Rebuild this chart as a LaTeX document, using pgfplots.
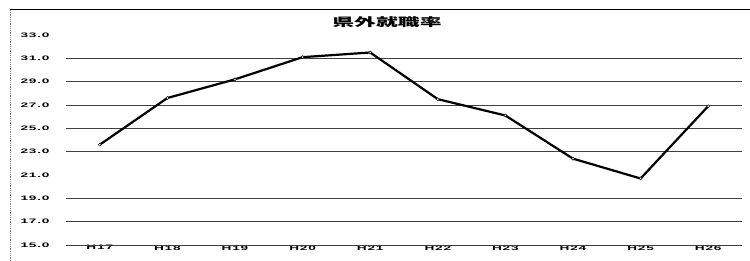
\documentclass[border=0pt]{standalone}
\usepackage{pgfplots}
\pgfplotsset{compat=1.18}
\usepackage{fontspec}
\setmainfont{Liberation Sans}
\newfontfamily\tickfont[FakeStretch=2.1,LetterSpace=12]{Liberation Sans}
\newfontfamily\cjk[FakeStretch=1.9]{Noto Sans CJK JP}
\begin{document}
\begin{tikzpicture}[x=1pt,y=1pt]
\useasboundingbox (0,0) rectangle (750,261);
\draw[black, line width=0.8pt] (10,252) -- (750,252);
\draw[gray, line width=0.8pt, densely dotted] (10,0) -- (10,252);
\node[font=\cjk\bfseries\fontsize{11.5}{12}\selectfont] at (387,239) {県外就職率};
\begin{axis}[
  at={(66pt,16pt)}, anchor=south west,
  scale only axis, width=676pt, height=210pt,
  xmin=-0.5, xmax=9.5, ymin=15, ymax=33,
  clip=false,
  axis line style={draw=none},
  tick style={draw=none},
  xtick={0,...,9},
  xticklabels={H17,H18,H19,H20,H21,H22,H23,H24,H25,H26},
  ytick={15,17,...,33},
  yticklabel={\pgfmathprintnumber[fixed,fixed zerofill,precision=1]{\tick}},
  /pgf/number format/assume math mode=true,
  ticklabel style={font=\tickfont\bfseries\fontsize{6.5}{7}\selectfont},
  yticklabel style={anchor=east, xshift=-13pt},
  xticklabel style={yshift=3pt},
  extra y ticks={15,17,19,23,25,27,29,31},
  extra y tick labels={},
  extra y tick style={grid=major},
  major grid style={black!75, line width=0.5pt},
]
\addplot[black, line width=2.2pt, mark=*, mark size=1.5pt, mark options={fill=white, line width=0.5pt}]
  coordinates {(0,23.6) (1,27.6) (2,29.2) (3,31.1) (4,31.5) (5,27.5) (6,26.1) (7,22.4) (8,20.7) (9,26.9)};
\end{axis}
\end{tikzpicture}
\end{document}
